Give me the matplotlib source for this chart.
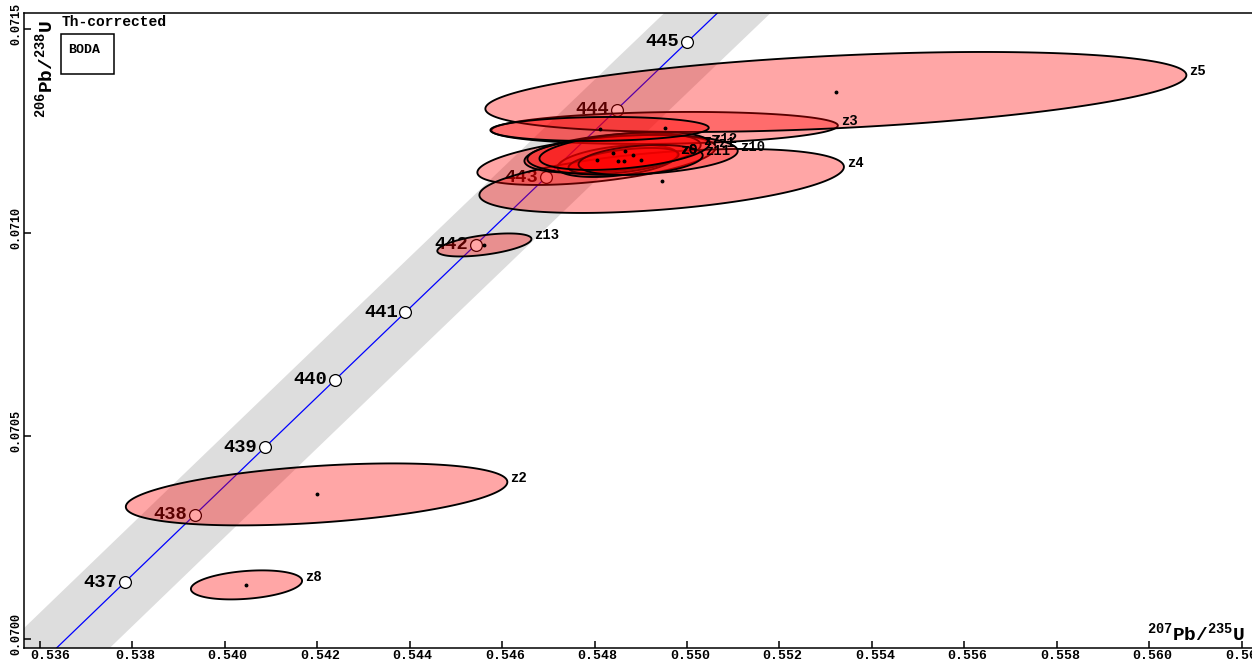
import numpy as np
import matplotlib
matplotlib.use("Agg")
import matplotlib.pyplot as plt
import matplotlib.transforms as mtransforms
from matplotlib.patches import Rectangle

plt.rcParams["font.family"] = ["Liberation Mono", "DejaVu Sans Mono"]
plt.rcParams["font.weight"] = "bold"
plt.rcParams["mathtext.fontset"] = "custom"
plt.rcParams["mathtext.rm"] = "Liberation Mono:bold"
plt.rcParams["mathtext.it"] = "Liberation Mono:bold"
plt.rcParams["mathtext.bf"] = "Liberation Mono:bold"

# grain error ellipses (centre, half-extent in x / y, error correlation)
grains = ["z1", "z2", "z3", "z4", "z5", "z6", "z7", "z8", "z9", "z10", "z11", "z12", "z13", ""]
pb207_u235 = [0.548044, 0.541989, 0.549516, 0.549452, 0.553220, 0.548498, 0.548390,
              0.540473, 0.548628, 0.548823, 0.548997, 0.548650, 0.545618, 0.548109]
pb206_u238 = [0.0711788, 0.0703561, 0.0712575, 0.0711271, 0.0713460, 0.0711763, 0.0711960,
              0.0701335, 0.0711763, 0.0711911, 0.0711788, 0.0712009, 0.0709697, 0.0712550]
err_x = [0.002578, 0.004126, 0.003747, 0.003942, 0.007581, 0.001300, 0.001906,
         0.001202, 0.001191, 0.002274, 0.001343, 0.001841, 0.001018, 0.002361]
err_y = [0.0000615, 0.0000762, 0.0000394, 0.0000787, 0.0000984, 0.0000394, 0.0000492,
         0.0000357, 0.0000320, 0.0000492, 0.0000369, 0.0000467, 0.0000283, 0.0000295]
rho = [0.50, 0.40, 0.15, 0.44, 0.42, 0.40, 0.40, 0.28, 0.50, 0.20, 0.30, 0.40, 0.52, 0.10]

# concordia age marks (Ma) and decay constants (1/Ma)
concordia_ages = [437, 438, 439, 440, 441, 442, 443, 444, 445]
lambda_238 = 1.55125e-4
lambda_235 = 9.8485e-4
band_halfwidth = 0.00115

x_ticks = [0.536, 0.538, 0.540, 0.542, 0.544, 0.546, 0.548, 0.550, 0.552,
           0.554, 0.556, 0.558, 0.560, 0.562]
y_ticks = [0.0700, 0.0705, 0.0710, 0.0715]


def concordia(t):
    t = np.asarray(t, dtype=float)
    return np.exp(lambda_235 * t) - 1, np.exp(lambda_238 * t) - 1


fig = plt.figure(figsize=(12.52, 6.6), dpi=100)
ax = fig.add_axes([23.5 / 1252, 12.3 / 660, 1 - 23.5 / 1252, 635.0 / 660])
ax.set_xlim(0.53565, 0.56222)
ax.set_ylim(0.069979, 0.071541)

# concordia curve with uncertainty band
t_line = np.linspace(434, 448, 200)
cx, cy = concordia(t_line)
ax.fill_betweenx(cy, cx - band_halfwidth, cx + band_halfwidth, color="#dddddd", lw=0, zorder=1)
ax.plot(cx, cy, color="blue", lw=0.9, zorder=2)

mx, my = concordia(concordia_ages)
ax.plot(mx, my, "o", ms=8.5, mfc="white", mec="black", mew=0.9, zorder=3)
for age, x, y in zip(concordia_ages, mx, my):
    ax.annotate(str(age), (x, y), xytext=(-5.5, 0), textcoords="offset points",
                ha="right", va="center", fontsize=13.5, fontweight="bold", zorder=3)

# error ellipses
t = np.linspace(0, 2 * np.pi, 300)
for name, x0, y0, sx, sy, r in zip(grains, pb207_u235, pb206_u238, err_x, err_y, rho):
    ex = x0 + sx * np.cos(t)
    ey = y0 + sy * (r * np.cos(t) + np.sqrt(1 - r * r) * np.sin(t))
    ax.fill(ex, ey, facecolor=(1, 0, 0, 0.35), edgecolor="black", lw=1.35, zorder=4)
    ax.plot([x0], [y0], "o", ms=1.8, color="black", zorder=5)
    if name:
        ax.annotate(name, (x0 + sx, y0 + r * sy), xytext=(2, 3), textcoords="offset points",
                    ha="left", va="center", fontsize=10, fontweight="bold", zorder=6)

# axes styling
for side in ["left", "bottom", "top"]:
    ax.spines[side].set_linewidth(1.1)
ax.spines["right"].set_visible(False)
ax.set_xticks(x_ticks)
ax.set_xticklabels([f"{v:.3f}" for v in x_ticks])
ax.set_yticks(y_ticks)
ax.set_yticklabels([f"{v:.4f}" for v in y_ticks], rotation=90, va="center")
ax.tick_params(direction="in", length=5, width=1.1, labelsize=9.5, pad=2)
ax.tick_params(axis="y", labelsize=8.5, pad=0.5)

shift_up = mtransforms.ScaledTranslation(0, 5 / 100, fig.dpi_scale_trans)
for lab in ax.get_yticklabels():
    lab.set_transform(lab.get_transform() + shift_up)
shift_right = mtransforms.ScaledTranslation(3 / 100, 0, fig.dpi_scale_trans)
xlabels = ax.get_xticklabels()
for lab in xlabels:
    lab.set_transform(lab.get_transform() + shift_right)
# first label pushed clear of the y axis
xlabels[0].set_transform(xlabels[0].get_transform()
                         + mtransforms.ScaledTranslation(8 / 100, 0, fig.dpi_scale_trans))

ax.text(0.9943, 0.012, r"$^{207}$Pb/$^{235}$U", transform=ax.transAxes,
        ha="right", va="baseline", fontsize=14, fontweight="bold")
ax.text(0.0175, 0.989, r"$^{206}$Pb/$^{238}$U", transform=ax.transAxes, rotation=90,
        ha="center", va="top", fontsize=14, fontweight="bold")

ax.text(0.0314, 0.986, "Th-corrected", transform=ax.transAxes, ha="left", va="center",
        fontsize=10.5, fontweight="bold")
ax.add_patch(Rectangle((0.0306, 0.9035), 0.0432, 0.0634, transform=ax.transAxes,
                       facecolor="white", edgecolor="black", lw=1.1, zorder=7))
ax.text(0.036, 0.942, "BODA", transform=ax.transAxes, ha="left", va="center",
        fontsize=9.5, fontweight="bold", zorder=8)

fig.savefig("out.png", dpi=100)
